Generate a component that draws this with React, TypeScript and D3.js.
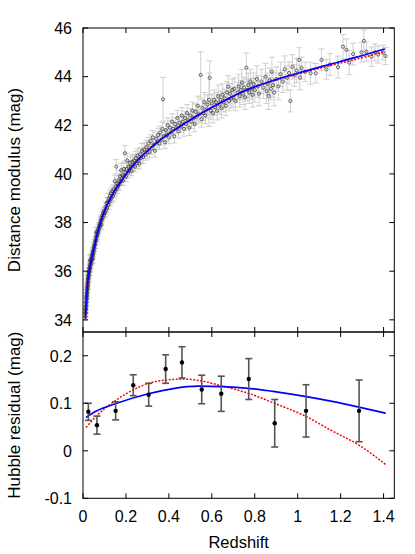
import * as d3 from 'd3'

// axis ticks
const zTicks = [0, 0.2, 0.4, 0.6, 0.8, 1, 1.2, 1.4]
const zTickLabels = ['0', '0.2', '0.4', '0.6', '0.8', '1', '1.2', '1.4']
const muTicks = [34, 36, 38, 40, 42, 44, 46]
const residTicks = [-0.1, 0, 0.1, 0.2]
const residTickLabels = ['-0.1', '0', '0.1', '0.2']

// individual supernovae: [redshift, distance modulus, error]
const supernovae: [number, number, number][] = [
  [0.012, 34.12, 0.15], [0.012, 34.3, 0.14], [0.013, 34.4, 0.13], [0.013, 34.27, 0.15], [0.014, 34.55, 0.14],
  [0.014, 34.44, 0.13], [0.015, 34.7, 0.15], [0.015, 34.58, 0.14], [0.016, 34.76, 0.13], [0.016, 34.9, 0.15],
  [0.017, 34.98, 0.14], [0.017, 34.86, 0.13], [0.018, 35.12, 0.15], [0.018, 35.0, 0.14], [0.019, 35.22, 0.13],
  [0.019, 35.1, 0.15], [0.02, 35.36, 0.14], [0.02, 35.25, 0.13], [0.021, 35.45, 0.15], [0.021, 35.33, 0.14],
  [0.022, 35.55, 0.13], [0.022, 35.44, 0.15], [0.023, 35.66, 0.14], [0.023, 35.54, 0.13], [0.024, 35.72, 0.15],
  [0.025, 35.7, 0.14], [0.025, 35.83, 0.13], [0.026, 35.78, 0.15], [0.027, 35.94, 0.14], [0.027, 35.83, 0.13],
  [0.028, 36.0, 0.15], [0.029, 35.95, 0.14], [0.03, 36.12, 0.13], [0.03, 36.0, 0.15], [0.031, 36.15, 0.14],
  [0.032, 36.1, 0.13], [0.033, 36.27, 0.15], [0.033, 36.45, 0.2], [0.034, 36.2, 0.14], [0.035, 36.36, 0.13],
  [0.036, 36.28, 0.15], [0.037, 36.43, 0.14], [0.038, 36.36, 0.13], [0.039, 36.52, 0.15], [0.04, 36.44, 0.14],
  [0.041, 36.6, 0.13], [0.042, 36.52, 0.15], [0.043, 36.68, 0.14], [0.044, 36.6, 0.13], [0.045, 36.76, 0.15],
  [0.045, 36.5, 0.18], [0.046, 36.68, 0.14], [0.047, 36.84, 0.13], [0.048, 36.76, 0.15], [0.05, 36.97, 0.14],
  [0.05, 36.84, 0.13], [0.052, 37.04, 0.15], [0.053, 36.95, 0.14], [0.055, 37.17, 0.13], [0.056, 37.08, 0.15],
  [0.058, 37.28, 0.14], [0.06, 37.24, 0.13], [0.061, 37.42, 0.15], [0.062, 37.6, 0.2], [0.063, 37.35, 0.14],
  [0.065, 37.55, 0.13], [0.066, 37.45, 0.15], [0.068, 37.64, 0.14], [0.07, 37.58, 0.13], [0.071, 37.75, 0.15],
  [0.073, 37.68, 0.14], [0.075, 37.87, 0.13], [0.077, 37.8, 0.15], [0.078, 37.96, 0.14], [0.08, 37.88, 0.13],
  [0.082, 38.08, 0.15], [0.084, 38.0, 0.14], [0.085, 37.9, 0.2], [0.086, 38.19, 0.13], [0.088, 38.1, 0.15],
  [0.09, 38.3, 0.14], [0.092, 38.2, 0.13], [0.094, 38.4, 0.15], [0.096, 38.3, 0.14], [0.098, 38.48, 0.13],
  [0.1, 38.38, 0.15],
  [0.102, 38.42, 0.18], [0.105, 38.65, 0.2], [0.108, 38.52, 0.18], [0.11, 38.8, 0.22], [0.112, 38.6, 0.18],
  [0.115, 38.85, 0.2], [0.118, 38.72, 0.18], [0.12, 38.98, 0.22], [0.123, 38.85, 0.18], [0.126, 39.1, 0.2],
  [0.128, 38.95, 0.22], [0.13, 39.2, 0.18], [0.133, 39.02, 0.2], [0.136, 39.28, 0.18], [0.139, 39.1, 0.22],
  [0.142, 39.35, 0.2], [0.145, 39.2, 0.18], [0.148, 39.7, 0.25], [0.15, 39.3, 0.2], [0.153, 39.48, 0.18],
  [0.155, 40.3, 0.3], [0.158, 39.4, 0.2], [0.16, 39.6, 0.22], [0.163, 39.5, 0.18], [0.166, 39.72, 0.22],
  [0.17, 39.58, 0.2], [0.172, 39.9, 0.24], [0.175, 39.7, 0.18], [0.178, 40.15, 0.28], [0.18, 39.78, 0.2],
  [0.183, 39.95, 0.22], [0.186, 39.72, 0.2], [0.19, 40.2, 0.28], [0.192, 39.92, 0.22], [0.195, 40.85, 0.32],
  [0.198, 40.05, 0.22], [0.2, 39.88, 0.2], [0.203, 40.2, 0.24], [0.206, 40.55, 0.3], [0.21, 40.05, 0.22],
  [0.213, 40.3, 0.24], [0.216, 40.15, 0.2], [0.22, 40.45, 0.26], [0.223, 40.28, 0.22], [0.226, 40.12, 0.2],
  [0.23, 40.5, 0.28], [0.234, 40.35, 0.22], [0.238, 40.55, 0.26], [0.242, 40.3, 0.22], [0.246, 40.65, 0.28],
  [0.25, 40.45, 0.22], [0.254, 40.75, 0.28], [0.258, 40.55, 0.24], [0.262, 40.42, 0.22], [0.266, 40.8, 0.28],
  [0.27, 40.65, 0.24], [0.275, 40.95, 0.3], [0.28, 40.7, 0.26], [0.285, 41.0, 0.28], [0.29, 40.8, 0.24],
  [0.295, 41.1, 0.28], [0.3, 40.88, 0.26],
  [0.305, 41.25, 0.25], [0.31, 40.9, 0.22], [0.315, 41.35, 0.26], [0.32, 41.05, 0.24], [0.325, 41.5, 0.28],
  [0.33, 41.2, 0.22], [0.335, 40.95, 0.25], [0.34, 41.45, 0.26], [0.345, 41.3, 0.22], [0.35, 41.6, 0.28],
  [0.355, 41.25, 0.24], [0.36, 41.7, 0.27], [0.365, 41.4, 0.22], [0.37, 41.85, 0.28], [0.373, 43.07, 0.9],
  [0.378, 41.55, 0.24], [0.382, 41.3, 0.26], [0.386, 41.8, 0.28], [0.39, 41.6, 0.24], [0.395, 42.0, 0.3],
  [0.4, 41.5, 0.26], [0.405, 41.9, 0.28], [0.41, 41.7, 0.24], [0.415, 42.15, 0.32], [0.42, 41.85, 0.26],
  [0.425, 41.55, 0.28], [0.43, 42.05, 0.27], [0.435, 41.9, 0.24], [0.44, 42.3, 0.32], [0.445, 41.75, 0.28],
  [0.45, 42.1, 0.26], [0.455, 41.95, 0.24], [0.46, 42.4, 0.33], [0.465, 42.15, 0.28], [0.47, 41.85, 0.3],
  [0.475, 42.3, 0.28], [0.48, 42.05, 0.26], [0.485, 42.5, 0.35], [0.49, 42.2, 0.28], [0.495, 41.9, 0.32],
  [0.5, 42.4, 0.3], [0.505, 42.15, 0.28], [0.51, 42.6, 0.35], [0.515, 42.3, 0.3], [0.52, 42.05, 0.32],
  [0.525, 42.55, 0.33], [0.53, 42.35, 0.3], [0.535, 42.8, 0.4], [0.54, 42.45, 0.32], [0.548, 44.07, 0.95],
  [0.552, 42.25, 0.33], [0.556, 42.7, 0.35], [0.56, 42.5, 0.32], [0.565, 42.95, 0.4], [0.57, 42.4, 0.33],
  [0.575, 42.65, 0.35], [0.58, 42.85, 0.4], [0.587, 43.05, 1.1], [0.59, 43.95, 0.7], [0.595, 42.6, 0.35],
  [0.6, 42.9, 0.38], [0.605, 42.5, 0.4], [0.61, 43.05, 0.4], [0.615, 42.75, 0.35], [0.62, 42.95, 0.4],
  [0.625, 42.6, 0.38], [0.63, 43.2, 0.45], [0.635, 42.85, 0.4], [0.64, 43.05, 0.35], [0.645, 42.7, 0.4],
  [0.65, 43.25, 0.45], [0.655, 42.95, 0.4], [0.66, 43.1, 0.38], [0.665, 42.8, 0.4], [0.67, 43.35, 0.45],
  [0.676, 43.59, 0.45], [0.68, 43.0, 0.4], [0.685, 43.3, 0.42], [0.69, 43.1, 0.4], [0.695, 43.45, 0.45],
  [0.7, 43.15, 0.4],
  [0.705, 43.5, 0.45], [0.71, 43.0, 0.4], [0.72, 43.35, 0.42], [0.725, 43.6, 0.5], [0.73, 43.2, 0.45],
  [0.735, 43.45, 0.4], [0.74, 43.75, 0.55], [0.745, 43.3, 0.45], [0.75, 43.55, 0.42], [0.755, 43.15, 0.5],
  [0.761, 44.37, 0.6], [0.765, 43.45, 0.45], [0.77, 43.65, 0.5], [0.775, 43.35, 0.45], [0.78, 43.8, 0.5],
  [0.785, 43.5, 0.42], [0.79, 43.25, 0.5], [0.795, 43.7, 0.45], [0.8, 43.45, 0.5], [0.81, 43.9, 0.55],
  [0.815, 43.6, 0.45], [0.82, 43.3, 0.5], [0.831, 43.8, 0.5], [0.84, 43.55, 0.45], [0.85, 44.0, 0.55],
  [0.855, 43.4, 0.5], [0.86, 43.7, 0.45], [0.865, 43.2, 0.55], [0.87, 43.85, 0.5], [0.875, 43.5, 0.45],
  [0.88, 44.2, 0.6], [0.885, 43.65, 0.5], [0.89, 43.35, 0.55], [0.9, 43.9, 0.5], [0.91, 43.6, 0.55],
  [0.92, 44.1, 0.5], [0.93, 43.8, 0.45], [0.94, 44.3, 0.55], [0.95, 43.95, 0.5], [0.96, 44.15, 0.45],
  [0.966, 43.0, 0.45], [0.975, 44.4, 0.5], [0.985, 44.05, 0.45], [0.995, 44.25, 0.5],
  [1.007, 44.69, 0.5], [1.018, 44.35, 0.45], [1.01, 43.96, 0.5], [1.035, 44.2, 0.4], [1.06, 44.14, 0.45],
  [1.084, 44.14, 0.4], [1.111, 44.69, 0.45], [1.134, 44.3, 0.4], [1.15, 44.5, 0.45], [1.188, 44.39, 0.45],
  [1.211, 45.23, 0.5], [1.227, 45.1, 0.45], [1.24, 44.58, 0.5], [1.258, 44.93, 0.45], [1.297, 45.0, 0.4],
  [1.308, 45.47, 0.45], [1.32, 45.03, 0.4], [1.344, 44.82, 0.4], [1.36, 45.0, 0.35], [1.375, 44.91, 0.35],
  [1.397, 44.99, 0.3], [1.409, 44.85, 0.35],
]

// model curves in the distance-modulus panel: [z, mu]
const blueModel: [number, number][] = [
  [0.011, 34.07], [0.023, 35.65], [0.036, 36.33], [0.055, 37.1], [0.07, 37.65], [0.096, 38.39],
  [0.132, 39.07], [0.186, 39.8], [0.21, 40.1], [0.288, 40.85], [0.365, 41.43], [0.443, 41.9],
  [0.52, 42.33], [0.606, 42.76], [0.761, 43.45], [0.917, 43.93], [1.01, 44.17], [1.118, 44.43],
  [1.274, 44.8], [1.406, 45.14],
]
const redModel: [number, number][] = [
  [0.011, 34.05], [0.023, 35.64], [0.036, 36.32], [0.055, 37.09], [0.07, 37.64], [0.096, 38.39],
  [0.132, 39.08], [0.186, 39.81], [0.21, 40.11], [0.288, 40.87], [0.365, 41.45], [0.443, 41.92],
  [0.52, 42.34], [0.606, 42.77], [0.761, 43.44], [0.917, 43.9], [1.01, 44.13], [1.118, 44.38],
  [1.274, 44.72], [1.406, 45.03],
]

// binned Hubble residuals
const binZ = [0.025, 0.065, 0.152, 0.234, 0.306, 0.385, 0.461, 0.553, 0.644, 0.772, 0.893, 1.039, 1.286]
const binResid = [0.082, 0.054, 0.084, 0.138, 0.118, 0.172, 0.186, 0.129, 0.12, 0.151, 0.058, 0.084, 0.084]
const binErr = [0.018, 0.019, 0.019, 0.022, 0.024, 0.03, 0.033, 0.03, 0.037, 0.043, 0.05, 0.055, 0.065]

// residual model curves: [z, residual]
const blueResid: [number, number][] = [
  [0.014, 0.07], [0.06, 0.083], [0.157, 0.1], [0.305, 0.12], [0.42, 0.131], [0.537, 0.136], [0.65, 0.135],
  [0.78, 0.131], [0.9, 0.124], [1.04, 0.114], [1.16, 0.104], [1.285, 0.092], [1.41, 0.079],
]
const redResid: [number, number][] = [
  [0.014, 0.049], [0.06, 0.072], [0.155, 0.107], [0.233, 0.128], [0.305, 0.142], [0.388, 0.149],
  [0.466, 0.151], [0.55, 0.147], [0.643, 0.137], [0.777, 0.12], [0.892, 0.1], [1.04, 0.072],
  [1.16, 0.042], [1.285, 0.012], [1.41, -0.029],
]

const W = 415
const H = 554
const L = 83
const R = 394.3
const TOP = 28
const MID = 332
const BOT = 498.3
const FONT = '"Liberation Sans", Arial, Helvetica, sans-serif'
const TICK = 5

export default function App() {
  const x = d3.scaleLinear().domain([0, 1.45]).range([L, R])
  const yTop = d3.scaleLinear().domain([33.5, 46]).range([MID, TOP])
  const yBot = d3.scaleLinear().domain([-0.1, 0.25]).range([BOT, MID])

  const curve = (y: d3.ScaleLinear<number, number>) =>
    d3.line<[number, number]>().x(d => x(d[0])).y(d => y(d[1])).curve(d3.curveMonotoneX)

  return (
    <svg width={W} height={H} style={{ position: 'absolute', left: 0, top: 0, background: '#fff' }}
      fontFamily={FONT}>
      <rect width={W} height={H} fill="#fff" />

      {/* top panel: scatter */}
      <g>
        {supernovae.map((d, i) => {
          const cx = x(d[0])
          const y1 = yTop(d[1] + d[2])
          const y2 = yTop(d[1] - d[2])
          return (
            <g key={i} stroke="#c4c4c4" strokeWidth={0.8}>
              <line x1={cx} x2={cx} y1={y1} y2={y2} />
              <line x1={cx - 3} x2={cx + 3} y1={y1} y2={y1} />
              <line x1={cx - 3} x2={cx + 3} y1={y2} y2={y2} />
            </g>
          )
        })}
        {supernovae.map((d, i) => (
          <circle key={i} cx={x(d[0])} cy={yTop(d[1])} r={1.6} fill="none" stroke="#3a3a3a" strokeWidth={0.75} />
        ))}
        <path d={curve(yTop)(redModel) || ''} fill="none" stroke="#f00" strokeWidth={1.5} strokeDasharray="2,1.5" />
        <path d={curve(yTop)(blueModel) || ''} fill="none" stroke="#00f" strokeWidth={1.7} />
      </g>

      {/* bottom panel: binned residuals */}
      <g>
        <path d={curve(yBot)(redResid) || ''} fill="none" stroke="#f00" strokeWidth={1.5} strokeDasharray="2,1.5" />
        <path d={curve(yBot)(blueResid) || ''} fill="none" stroke="#00f" strokeWidth={1.7} />
        {binZ.map((z, i) => {
          const cx = x(z)
          const y1 = yBot(binResid[i] + binErr[i])
          const y2 = yBot(binResid[i] - binErr[i])
          return (
            <g key={i}>
              <g stroke="#555" strokeWidth={1.6}>
                <line x1={cx} x2={cx} y1={y1} y2={y2} />
                <line x1={cx - 3.5} x2={cx + 3.5} y1={y1} y2={y1} />
                <line x1={cx - 3.5} x2={cx + 3.5} y1={y2} y2={y2} />
              </g>
              <circle cx={cx} cy={yBot(binResid[i])} r={2.2} fill="#000" />
            </g>
          )
        })}
      </g>

      {/* frames */}
      <rect x={L} y={TOP} width={R - L} height={MID - TOP} fill="none" stroke="#000" strokeWidth={1} />
      <rect x={L} y={MID} width={R - L} height={BOT - MID} fill="none" stroke="#000" strokeWidth={1} />

      {/* x ticks */}
      {zTicks.map((t, i) => (
        <g key={i} stroke="#000" strokeWidth={1}>
          <line x1={x(t)} x2={x(t)} y1={TOP} y2={TOP + TICK} />
          <line x1={x(t)} x2={x(t)} y1={MID - TICK} y2={MID + TICK} />
          <line x1={x(t)} x2={x(t)} y1={BOT} y2={BOT - TICK} />
        </g>
      ))}
      {zTicks.map((t, i) => (
        <text key={i} x={x(t)} y={522} textAnchor="middle" fontSize={16}>{zTickLabels[i]}</text>
      ))}
      <text x={(L + R) / 2} y={548} textAnchor="middle" fontSize={16.5}>Redshift</text>

      {/* top y ticks */}
      {muTicks.map((t, i) => (
        <g key={i}>
          <line x1={L} x2={L + TICK} y1={yTop(t)} y2={yTop(t)} stroke="#000" />
          <line x1={R} x2={R - TICK} y1={yTop(t)} y2={yTop(t)} stroke="#000" />
          <text x={72} y={yTop(t)} dy="0.36em" textAnchor="end" fontSize={16}>{t}</text>
        </g>
      ))}

      {/* bottom y ticks */}
      {residTicks.map((t, i) => (
        <g key={i}>
          <line x1={L} x2={L + TICK} y1={yBot(t)} y2={yBot(t)} stroke="#000" />
          <line x1={R} x2={R - TICK} y1={yBot(t)} y2={yBot(t)} stroke="#000" />
          <text x={72} y={yBot(t)} dy="0.36em" textAnchor="end" fontSize={16}>{residTickLabels[i]}</text>
        </g>
      ))}

      <text transform={`translate(20,${(TOP + MID) / 2}) rotate(-90)`} textAnchor="middle" fontSize={17}>
        Distance modulus (mag)
      </text>
      <text transform={`translate(20,${(MID + BOT) / 2}) rotate(-90)`} textAnchor="middle" fontSize={17}>
        Hubble residual (mag)
      </text>
    </svg>
  )
}
